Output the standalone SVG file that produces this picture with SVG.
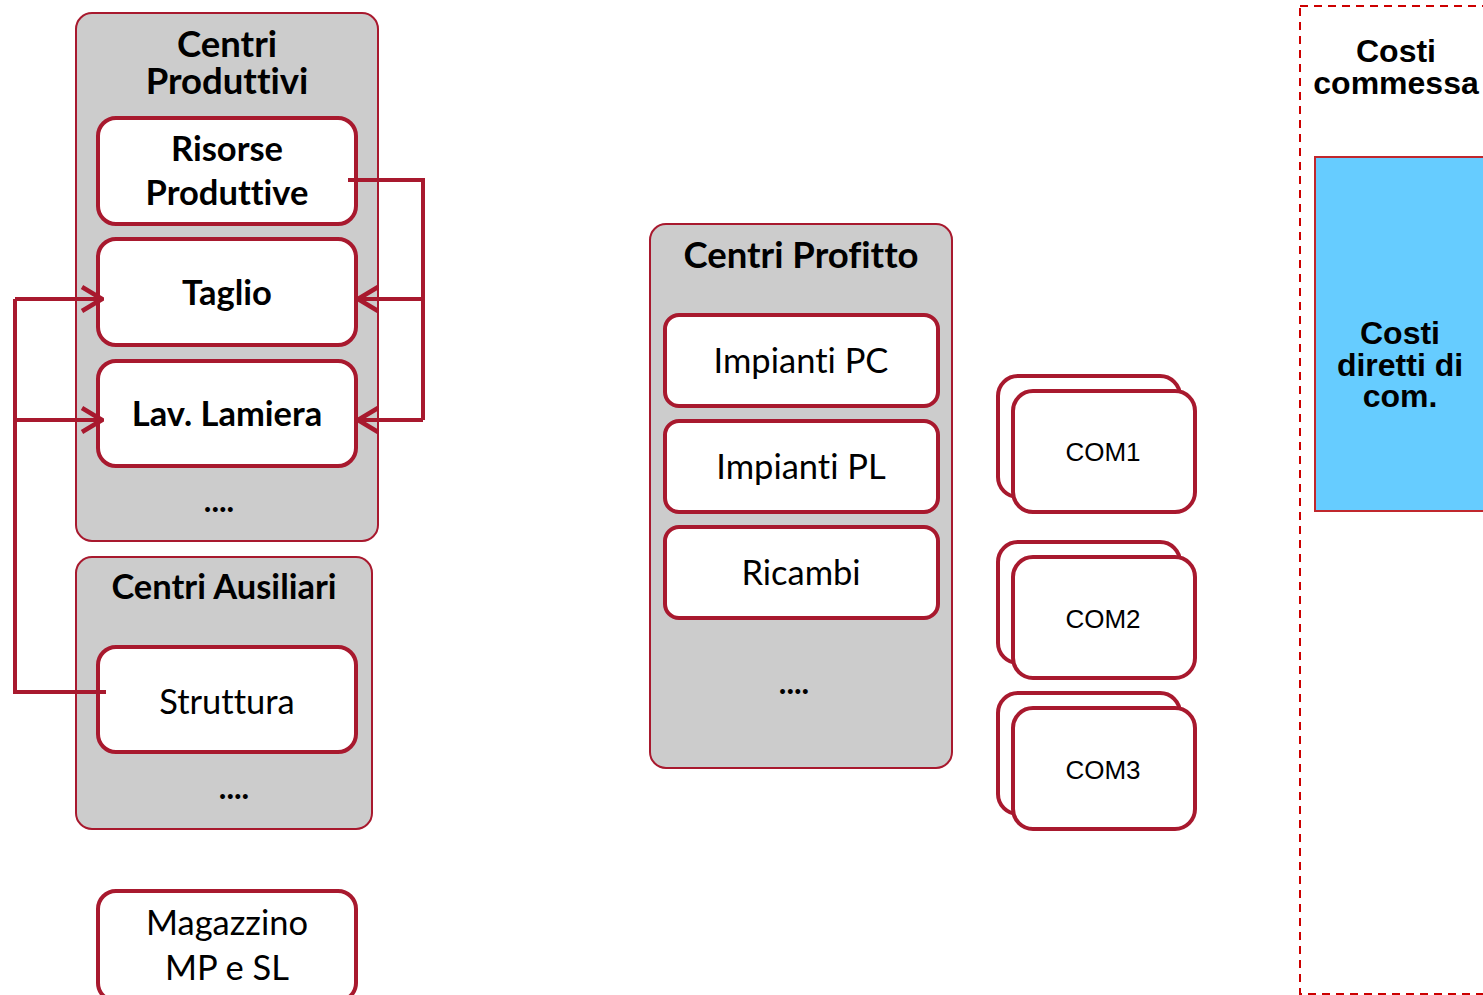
<svg xmlns="http://www.w3.org/2000/svg" width="1483" height="995" viewBox="0 0 1483 995">
<style>
.grp{fill:#CCCCCC;stroke:#A8192E;stroke-width:2}
.nd{fill:#FFFFFF;stroke:#A8192E;stroke-width:4}
.t{font-family:Lato,"Open Sans",sans-serif;fill:#000;text-anchor:middle;font-variant-ligatures:none}
.b{font-weight:bold}
.a{font-family:"Liberation Sans",Arial,sans-serif;fill:#000;text-anchor:middle}
.cn{fill:none;stroke:#A8192E;stroke-width:4}
</style>
<defs>
<marker id="ar" viewBox="0 0 24 28" refX="22" refY="14" markerWidth="24" markerHeight="28" markerUnits="userSpaceOnUse" orient="auto">
<path d="M2,2 L22,14 L2,26" fill="none" stroke="#A8192E" stroke-width="4.5"/>
</marker>
</defs>
<rect x="0" y="0" width="1483" height="995" fill="#FFFFFF"/>

<g id="costi-commessa">
<rect x="1300" y="6" width="200" height="988" fill="none" stroke="#CC0000" stroke-width="2" stroke-dasharray="8,6"/>
<text class="a b" x="1396" y="62" font-size="32">Costi</text>
<text class="a b" x="1396" y="94" font-size="32">commessa</text>
</g>
<g id="costi-diretti">
<rect x="1315" y="157" width="190" height="354" fill="#66CCFF" stroke="#C0272D" stroke-width="2"/>
<text class="a b" x="1400" y="344" font-size="32">Costi</text>
<text class="a b" x="1400" y="376" font-size="32">diretti di</text>
<text class="a b" x="1400" y="407" font-size="32">com.</text>
</g>

<g id="centri-produttivi">
<rect class="grp" x="76" y="13" width="302" height="528" rx="16"/>
<text class="t b" x="227" y="57" font-size="36.5">Centri</text>
<text class="t b" x="227" y="94" font-size="36.5">Produttivi</text>
<text class="t b" x="219" y="512" font-size="32">....</text>
</g>
<g id="risorse-produttive">
<rect class="nd" x="98" y="118" width="258" height="106" rx="18"/>
<text class="t b" x="227" y="161" font-size="34.5">Risorse</text>
<text class="t b" x="227" y="205" font-size="34.5">Produttive</text>
</g>
<g id="taglio">
<rect class="nd" x="98" y="239" width="258" height="106" rx="18"/>
<text class="t b" x="227" y="305" font-size="34.5">Taglio</text>
</g>
<g id="lav-lamiera">
<rect class="nd" x="98" y="361" width="258" height="105" rx="18"/>
<text class="t b" x="227" y="426" font-size="34.5">Lav. Lamiera</text>
</g>

<g id="centri-ausiliari">
<rect class="grp" x="76" y="557" width="296" height="272" rx="16"/>
<text class="t b" x="224" y="599" font-size="34.5">Centri Ausiliari</text>
<text class="t b" x="234" y="799" font-size="32">....</text>
</g>
<g id="struttura">
<rect class="nd" x="98" y="647" width="258" height="105" rx="18"/>
<text class="t" x="227" y="714" font-size="34.5">Struttura</text>
</g>

<g id="magazzino">
<rect class="nd" x="98" y="891" width="258" height="110" rx="18"/>
<text class="t" x="227" y="935" font-size="34.5">Magazzino</text>
<text class="t" x="227" y="980" font-size="34.5">MP e SL</text>
</g>

<g id="centri-profitto">
<rect class="grp" x="650" y="224" width="302" height="544" rx="16"/>
<text class="t b" x="801" y="268" font-size="36.5">Centri Profitto</text>
<text class="t b" x="794" y="694" font-size="32">....</text>
</g>
<g id="impianti-pc">
<rect class="nd" x="665" y="315" width="273" height="91" rx="14"/>
<text class="t" x="801" y="373" font-size="34.5">Impianti PC</text>
</g>
<g id="impianti-pl">
<rect class="nd" x="665" y="421" width="273" height="91" rx="14"/>
<text class="t" x="801" y="479" font-size="34.5">Impianti PL</text>
</g>
<g id="ricambi">
<rect class="nd" x="665" y="527" width="273" height="91" rx="14"/>
<text class="t" x="801" y="585" font-size="34.5">Ricambi</text>
</g>

<g id="com1">
<rect class="nd" x="998" y="376" width="182" height="121" rx="20"/>
<rect class="nd" x="1013" y="391" width="182" height="121" rx="20"/>
<text class="a" x="1103" y="461" font-size="26">COM1</text>
</g>
<g id="com2">
<rect class="nd" x="998" y="542" width="182" height="121" rx="20"/>
<rect class="nd" x="1013" y="557" width="182" height="121" rx="20"/>
<text class="a" x="1103" y="628" font-size="26">COM2</text>
</g>
<g id="com3">
<rect class="nd" x="998" y="693" width="182" height="121" rx="20"/>
<rect class="nd" x="1013" y="708" width="182" height="121" rx="20"/>
<text class="a" x="1103" y="779" font-size="26">COM3</text>
</g>

<g id="connectors">
<path class="cn" d="M348,180 H423 V420"/>
<path class="cn" d="M423,299 H358" marker-end="url(#ar)"/>
<path class="cn" d="M423,420 H358" marker-end="url(#ar)"/>
<path class="cn" d="M106,692 H15 V299"/>
<path class="cn" d="M15,299 H102" marker-end="url(#ar)"/>
<path class="cn" d="M15,420 H102" marker-end="url(#ar)"/>
</g>
</svg>
